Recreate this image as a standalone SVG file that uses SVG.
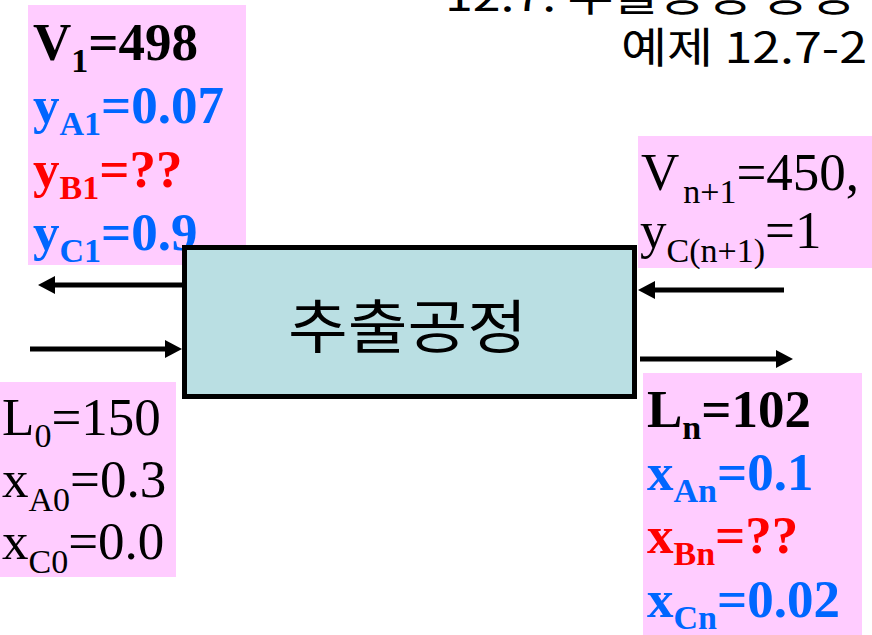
<svg xmlns="http://www.w3.org/2000/svg" width="872" height="635" viewBox="0 0 872 635">
<style>
.pink{fill:#FFCCFF}
.t{font-family:"Liberation Serif","Times New Roman",serif;font-size:53px}
.b{font-weight:bold}
.blue{fill:#0066FF}
.red{fill:#FF0000}
.blk{fill:#000}
.sub{font-size:34px}
.kr{font-family:"Noto Sans CJK KR","Noto Sans",sans-serif;fill:#000}
.conn{stroke:#000;stroke-width:5;fill:none}
</style>
<defs>
<marker id="ah" markerUnits="userSpaceOnUse" markerWidth="20" markerHeight="20" refX="6" refY="9" orient="auto">
<path d="M0,0 L17,9 L0,18 Z" fill="#000"/>
</marker>
</defs>
<rect width="872" height="635" fill="#fff"/>
<g id="title">
<text class="kr" x="445" y="11" font-size="42" textLength="410" lengthAdjust="spacingAndGlyphs">12.7: 추출공정 공정</text>
<text class="kr" x="621" y="63" font-size="42" textLength="246" lengthAdjust="spacingAndGlyphs">예제 12.7-2</text>
</g>
<g id="v1">
<rect class="pink" x="28" y="5" width="218" height="260"/>
<text class="t b blk" x="33" y="60">V<tspan class="sub" y="72">1</tspan><tspan y="60">=498</tspan></text>
<text class="t b blue" x="33" y="123">y<tspan class="sub" y="135">A1</tspan><tspan y="123">=0.07</tspan></text>
<text class="t b red" x="33" y="187">y<tspan class="sub" y="199">B1</tspan><tspan y="187">=??</tspan></text>
<text class="t b blue" x="33" y="250">y<tspan class="sub" y="262">C1</tspan><tspan y="250">=0.9</tspan></text>
</g>
<g id="vn1">
<rect class="pink" x="638" y="136" width="234" height="132"/>
<text class="t blk" x="641" y="190">V<tspan class="sub" y="203" dx="4">n+1</tspan><tspan y="190">=450,</tspan></text>
<text class="t blk" x="640" y="248">y<tspan class="sub" y="262">C(n+1)</tspan><tspan y="248">=1</tspan></text>
</g>
<g id="l0">
<rect class="pink" x="0" y="382" width="176" height="195"/>
<text class="t blk" x="2" y="435">L<tspan class="sub" y="447">0</tspan><tspan y="435">=150</tspan></text>
<text class="t blk" x="2" y="497">x<tspan class="sub" y="511">A0</tspan><tspan y="497">=0.3</tspan></text>
<text class="t blk" x="2" y="559">x<tspan class="sub" y="573">C0</tspan><tspan y="559">=0.0</tspan></text>
</g>
<g id="ln">
<rect class="pink" x="643" y="373" width="219" height="262"/>
<text class="t b blk" x="647" y="427">L<tspan class="sub" y="439">n</tspan><tspan y="427">=102</tspan></text>
<text class="t b blue" x="647" y="490">x<tspan class="sub" y="502">An</tspan><tspan y="490">=0.1</tspan></text>
<text class="t b red" x="647" y="553">x<tspan class="sub" y="565">Bn</tspan><tspan y="553">=??</tspan></text>
<text class="t b blue" x="647" y="617">x<tspan class="sub" y="629">Cn</tspan><tspan y="617">=0.02</tspan></text>
</g>
<g id="process">
<rect x="184.5" y="247.5" width="450" height="149" fill="#BADFE3" stroke="#000" stroke-width="5"/>
<text class="kr" x="288" y="348" font-size="58" textLength="239" lengthAdjust="spacingAndGlyphs">추출공정</text>
</g>
<g id="connectors">
<line class="conn" x1="182" y1="285" x2="49" y2="285" marker-end="url(#ah)"/>
<line class="conn" x1="30" y1="349" x2="171" y2="349" marker-end="url(#ah)"/>
<line class="conn" x1="784" y1="290" x2="649" y2="290" marker-end="url(#ah)"/>
<line class="conn" x1="640" y1="359" x2="782" y2="359" marker-end="url(#ah)"/>
</g>
</svg>
